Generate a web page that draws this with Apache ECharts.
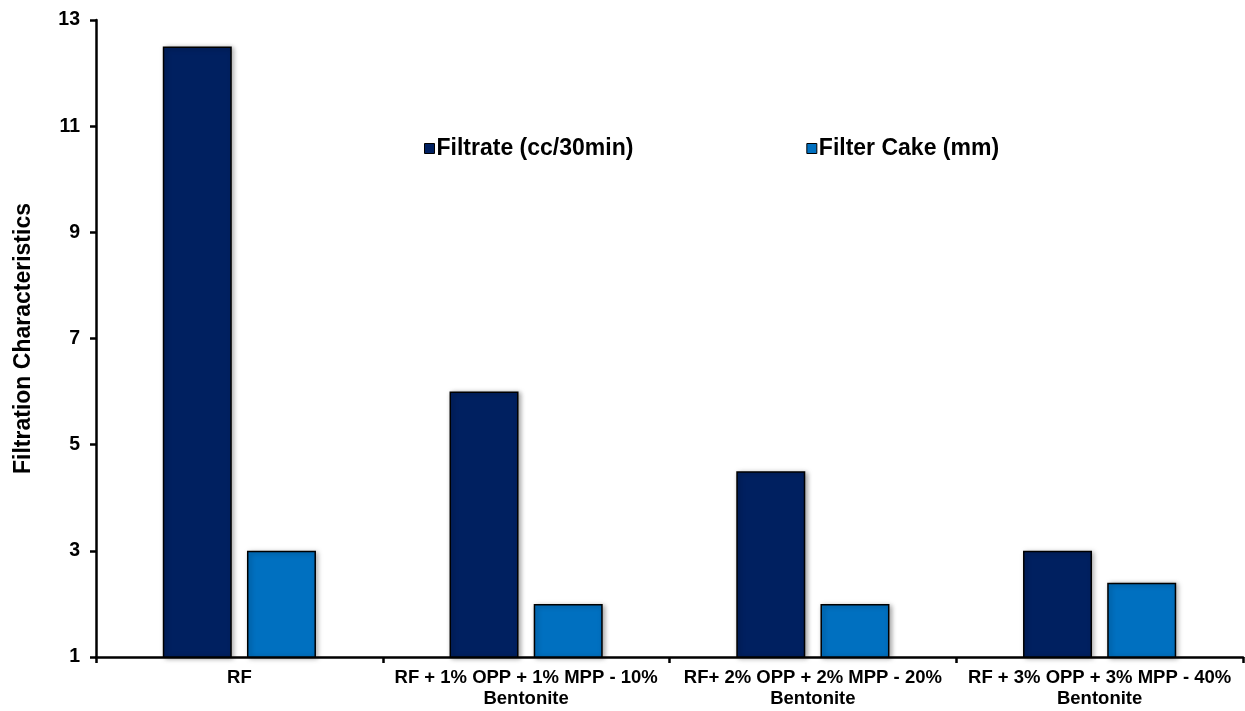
<!DOCTYPE html>
<html>
<head>
<meta charset="utf-8">
<script src="https://cdn.jsdelivr.net/npm/echarts@6/dist/echarts.min.js"></script>
<style>
  html, body { margin: 0; padding: 0; background: #fff; }
  #chart { width: 1245px; height: 711px; }
</style>
</head>
<body>
<div id="chart"></div>
<script>
// Mud formulations tested
const categories = [
  'RF',
  'RF + 1% OPP + 1% MPP - 10%\nBentonite',
  'RF+ 2% OPP + 2% MPP - 20%\nBentonite',
  'RF + 3% OPP + 3% MPP - 40%\nBentonite'
];
// Fluid loss volume and cake thickness for each formulation
const filtrate = [12.5, 6.0, 4.5, 3.0];
const filterCake = [3.0, 2.0, 2.0, 2.4];
// Y-axis tick positions
const yTicks = [1, 3, 5, 7, 9, 11, 13];

const FONT = '"Liberation Sans", Arial, sans-serif';

const barStyle = (color) => ({
  color: color,
  borderColor: '#000',
  borderWidth: 1.5,
  shadowColor: 'rgba(0,0,0,0.35)',
  shadowBlur: 5,
  shadowOffsetX: 2,
  shadowOffsetY: 1
});

const chart = echarts.init(document.getElementById('chart'));
chart.setOption({
  animation: false,
  textStyle: { fontFamily: FONT },
  legend: {
    left: 419,
    top: 132,
    itemWidth: 10,
    itemHeight: 10,
    itemGap: 173,
    icon: 'rect',
    textStyle: { fontFamily: FONT, fontWeight: 'bold', fontSize: 23, color: '#000', padding: [0, 0, 0, -3] },
    data: [
      { name: 'Filtrate (cc/30min)', itemStyle: { borderColor: '#000', borderWidth: 1 } },
      { name: 'Filter Cake (mm)', itemStyle: { borderColor: '#000', borderWidth: 1 } }
    ]
  },
  grid: { left: 96, right: 2, top: 20, bottom: 54, containLabel: false },
  xAxis: {
    type: 'category',
    data: categories,
    axisLine: { lineStyle: { color: '#000', width: 2.5 } },
    axisTick: { show: true, alignWithLabel: false, length: 6, lineStyle: { color: '#000', width: 2.5 } },
    axisLabel: {
      interval: 0,
      color: '#000',
      fontWeight: 'bold',
      fontSize: 18.5,
      lineHeight: 21,
      margin: 10,
      fontFamily: FONT
    }
  },
  yAxis: {
    type: 'value',
    min: 1,
    max: 13,
    name: 'Filtration Characteristics',
    nameLocation: 'middle',
    nameGap: 61,
    nameTextStyle: { color: '#000', fontWeight: 'bold', fontSize: 23, fontFamily: FONT },
    splitLine: { show: false },
    axisLine: { show: true, lineStyle: { color: '#000', width: 2.5 } },
    axisTick: { show: true, length: 6, customValues: yTicks, lineStyle: { color: '#000', width: 2.5 } },
    axisLabel: {
      customValues: yTicks,
      color: '#000',
      fontWeight: 'bold',
      fontSize: 19.5,
      margin: 16,
      fontFamily: FONT
    }
  },
  series: [
    {
      name: 'Filtrate (cc/30min)',
      type: 'bar',
      data: filtrate,
      barWidth: 69,
      barGap: '22%',
      itemStyle: barStyle('#002060')
    },
    {
      name: 'Filter Cake (mm)',
      type: 'bar',
      data: filterCake,
      barWidth: 69,
      itemStyle: barStyle('#0070C0')
    }
  ]
});
</script>
</body>
</html>
